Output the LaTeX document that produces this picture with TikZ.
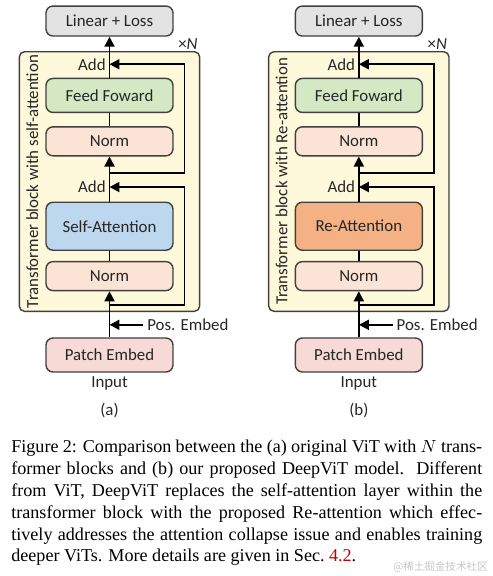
\documentclass[tikz,border=0pt]{standalone}
\usepackage{fontspec}
\setmainfont{Liberation Serif}
\newfontfamily\diagfont{Carlito}
\newfontfamily\cjkfont{Noto Sans CJK SC}
\usepackage{xcolor}
\usetikzlibrary{arrows.meta,positioning,calc,backgrounds}
\definecolor{lossgray}{HTML}{E3E3E3}
\definecolor{ffgreen}{HTML}{D5E8C4}
\definecolor{normpink}{HTML}{FBE3D6}
\definecolor{patchpink}{HTML}{F7D9D5}
\definecolor{sablue}{HTML}{BDD7EE}
\definecolor{reorange}{HTML}{F4B183}
\definecolor{blockyel}{HTML}{FFF9DC}
\definecolor{edge}{HTML}{404040}
\definecolor{linkred}{HTML}{C00000}
\tikzset{
  layer/.style={rectangle, rounded corners=4pt, draw=edge, line width=0.8pt, fill=#1,
                minimum width=2.54cm, font=\diagfont\fontsize{9.6}{10}\selectfont, text=black!85},
  blockbg/.style={rounded corners=3pt, draw=edge, line width=0.8pt, fill=blockyel},
  lbl/.style={font=\diagfont\fontsize{9.6}{10}\selectfont, inner sep=2pt, text=black!85},
  arr/.style={-{Triangle[length=2mm,width=2mm]}, line width=1.1pt},
  link/.style={line width=1.1pt},
}

\begin{document}
\begin{tikzpicture}[x=0.02cm, y=-0.02cm]
    \useasboundingbox (0,0) rectangle (493,576);
    % (a) original ViT
    \node[layer=patchpink, minimum height=0.68cm] (pa) at (109.5,355) {Patch Embed};
    \node[layer=normpink, minimum height=0.58cm, above=0.92cm of pa] (n1a) {Norm};
    \node[layer=sablue, minimum height=0.96cm, above=0.2cm of n1a] (sa) {Self-Attention};
    \node[layer=normpink, minimum height=0.58cm, above=0.9cm of sa] (n2a) {Norm};
    \node[layer=ffgreen, minimum height=0.68cm, above=0.26cm of n2a] (ffa) {Feed Foward};
    \node[layer=lossgray, minimum height=0.6cm, above=0.82cm of ffa] (lla) {Linear + Loss};
    \node[lbl, anchor=east] (ad1a) at ($(sa.north)+(0,0.29cm)$) {Add};
    \node[lbl, anchor=east] (ad2a) at ($(ffa.north)+(0,0.27cm)$) {Add};
    \node[lbl, anchor=west] (pea) at ($(pa.north)+(0.68cm,0.25cm)$) {Pos. Embed};
    \node[lbl, below=0pt of pa] (ina) {Input};
    \node[lbl, below=0.1cm of ina] (capa) {(a)};
    \begin{scope}[on background layer]
      \draw[blockbg] ($(ffa.north west)+(-0.52cm,0.52cm)$) coordinate (ba1)
        rectangle ($(n1a.south east)+(0.52cm,-0.4cm)$) coordinate (ba2);
    \end{scope}
    \node[lbl, rotate=90] (tba) at ($(ba1)!0.5!(ba1 |- ba2)+(0.26cm,0)$) {Transformer block with self-attention};
    \node[lbl, anchor=south east, inner sep=1pt] (xna) at (ba2 |- ba1) {×\textit{N}};
    \draw[arr] (pa) -- (n1a);
    \draw[link] (n1a) -- (sa);
    \draw[arr] (sa) -- (n2a);
    \draw[link] (n2a) -- (ffa);
    \draw[arr] (ffa) -- (lla);
    \draw[arr] (pea.west) -- (pea.west -| pa.north);
    \coordinate (r1a) at ($(n1a.south)+(0,-0.28cm)$);
    \coordinate (r2a) at ($(n2a.south)+(0,-0.33cm)$);
    \draw[arr] (r1a) -- ++(1.5cm,0) |- (ad1a.east -| sa.north);
    \draw[arr] (r2a) -- ++(1.5cm,0) |- (ad2a.east -| ffa.north);

    % (b) DeepViT
    \node[layer=patchpink, minimum height=0.68cm, right=2.42cm of pa] (pb) {Patch Embed};
    \node[layer=normpink, minimum height=0.58cm, above=0.92cm of pb] (n1b) {Norm};
    \node[layer=reorange, minimum height=0.96cm, above=0.2cm of n1b] (rb) {Re-Attention};
    \node[layer=normpink, minimum height=0.58cm, above=0.9cm of rb] (n2b) {Norm};
    \node[layer=ffgreen, minimum height=0.68cm, above=0.26cm of n2b] (ffb) {Feed Foward};
    \node[layer=lossgray, minimum height=0.6cm, above=0.82cm of ffb] (llb) {Linear + Loss};
    \node[lbl, anchor=east] (ad1b) at ($(rb.north)+(0,0.29cm)$) {Add};
    \node[lbl, anchor=east] (ad2b) at ($(ffb.north)+(0,0.27cm)$) {Add};
    \node[lbl, anchor=west] (peb) at ($(pb.north)+(0.68cm,0.25cm)$) {Pos. Embed};
    \node[lbl, below=0pt of pb] (inb) {Input};
    \node[lbl, below=0.1cm of inb] (capb) {(b)};
    \begin{scope}[on background layer]
      \draw[blockbg] ($(ffb.north west)+(-0.52cm,0.52cm)$) coordinate (bb1)
        rectangle ($(n1b.south east)+(0.52cm,-0.4cm)$) coordinate (bb2);
    \end{scope}
    \node[lbl, rotate=90] (tbb) at ($(bb1)!0.5!(bb1 |- bb2)+(0.26cm,0)$) {Transformer block with Re-attention};
    \node[lbl, anchor=south east, inner sep=1pt] (xnb) at (bb2 |- bb1) {×\textit{N}};
    \draw[arr] (pb) -- (n1b);
    \draw[link] (n1b) -- (rb);
    \draw[arr] (rb) -- (n2b);
    \draw[link] (n2b) -- (ffb);
    \draw[arr] (ffb) -- (llb);
    \draw[arr] (peb.west) -- (peb.west -| pb.north);
    \coordinate (r1b) at ($(n1b.south)+(0,-0.28cm)$);
    \coordinate (r2b) at ($(n2b.south)+(0,-0.33cm)$);
    \draw[arr] (r1b) -- ++(1.5cm,0) |- (ad1b.east -| rb.north);
    \draw[arr] (r2b) -- ++(1.5cm,0) |- (ad2b.east -| ffb.north);

    % caption
    \node[anchor=north west, text width=9.42cm, align=justify, inner sep=0pt,
          font=\fontsize{10.3}{12.4}\selectfont] (cap) at (11,440)
      {\hyphenpenalty=10000\tolerance=9999
       Figure 2: Comparison between the (a) original ViT with $N$ trans-\linebreak
       former blocks and (b) our proposed DeepViT model.\ \ Different\linebreak
       from ViT, DeepViT replaces the self-attention layer within the\linebreak
       transformer block with the proposed Re-attention which effec-\linebreak
       tively addresses the attention collapse issue and enables training\linebreak
       deeper ViTs. More details are given in Sec.~\textcolor{linkred}{4.2}.};
    \node[anchor=east, font=\cjkfont\fontsize{6}{7}\selectfont, text=gray!45, inner sep=0pt] (wm) at (488,567) {@稀土掘金技术社区};
\end{tikzpicture}
\end{document}
